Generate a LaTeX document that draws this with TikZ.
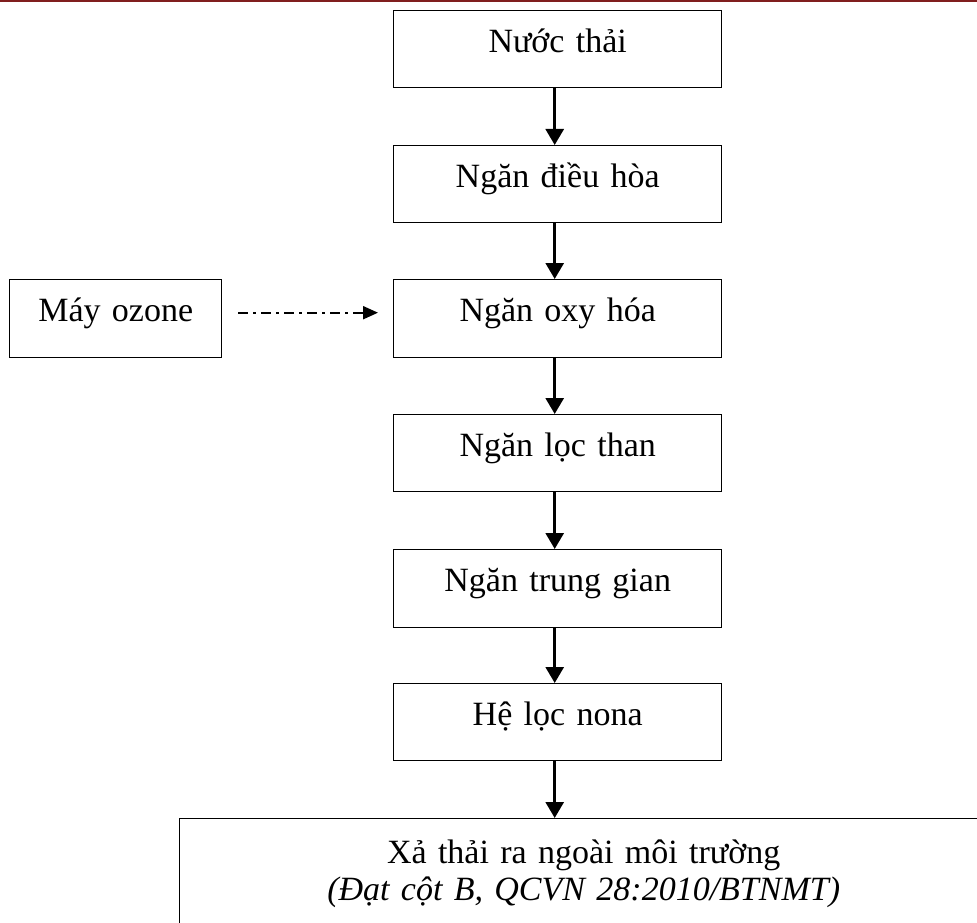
\documentclass[tikz,border=0pt]{standalone}
\usepackage{fontspec}
\setmainfont{Liberation Serif}
\usetikzlibrary{arrows.meta}
\definecolor{hdr}{RGB}{128,30,30}
\begin{document}
\begin{tikzpicture}[x=1pt,y=-1pt,
  box/.style={draw, line width=1.4pt, inner sep=0pt, anchor=north west, align=center,
    font=\fontsize{34}{37}\selectfont, text height=42pt},
  arr/.style={line width=2.8pt, -{Triangle[length=16pt,width=18pt]}},
  dasharr/.style={line width=2pt, dash pattern=on 10pt off 5pt on 3pt off 5pt,
    -{Triangle[length=15pt,width=13pt]}}]
\useasboundingbox (0,0) rectangle (977,923);
\draw[hdr, line width=2.5pt] (0,1) -- (977,1);
\node[box, text width=328pt, text depth=35pt] (n1) at (393,10) {Nước thải};
\node[box, text width=328pt, text depth=35pt] (n2) at (393,145) {Ngăn điều hòa};
\node[box, text width=328pt, text depth=36pt] (n3) at (393,279) {Ngăn oxy hóa};
\node[box, text width=328pt, text depth=35pt] (n4) at (393,414) {Ngăn lọc than};
\node[box, text width=328pt, text depth=36pt] (n5) at (393,549) {Ngăn trung gian};
\node[box, text width=328pt, text depth=35pt] (n6) at (393,683) {Hệ lọc nona};
\node[box, text width=212pt, text depth=36pt] (oz) at (9,279) {Máy ozone};
\node[box, text width=808pt, text height=45pt, text depth=77pt] (n7) at (179,818)
  {Xả thải ra ngoài môi trường\\\textit{(Đạt cột B, QCVN 28:2010/BTNMT)}};
\draw[arr] ([xshift=-3pt]n1.south) -- ([xshift=-3pt]n2.north);
\draw[arr] ([xshift=-3pt]n2.south) -- ([xshift=-3pt]n3.north);
\draw[arr] ([xshift=-3pt]n3.south) -- ([xshift=-3pt]n4.north);
\draw[arr] ([xshift=-3pt]n4.south) -- ([xshift=-3pt]n5.north);
\draw[arr] ([xshift=-3pt]n5.south) -- ([xshift=-3pt]n6.north);
\draw[arr] ([xshift=-3pt]n6.south) -- ([xshift=-3pt]n6.south |- n7.north);
\draw[dasharr, shorten <=16pt, shorten >=15pt] ([yshift=6pt]oz.east) -- ([yshift=6pt]n3.west);
\end{tikzpicture}
\end{document}
